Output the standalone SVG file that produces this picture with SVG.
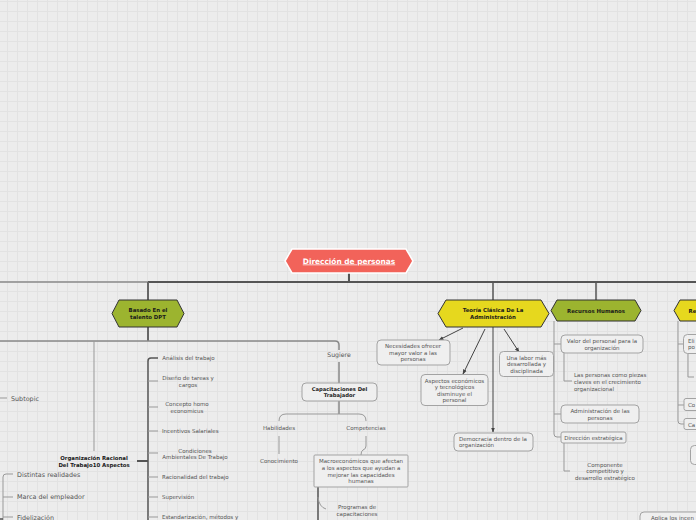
<svg xmlns="http://www.w3.org/2000/svg" width="696" height="520" viewBox="0 0 696 520">
<defs>
<pattern id="grid" x="7" y="1" width="10" height="10" patternUnits="userSpaceOnUse">
<rect width="10" height="10" fill="#ececec"/>
<path d="M0.5 0 V10 M0 0.5 H10" stroke="#e2e2e2" stroke-width="1"/>
</pattern>
<marker id="arr" viewBox="0 0 10 10" refX="9" refY="5" markerWidth="5" markerHeight="5" orient="auto">
<path d="M0 1 L10 5 L0 9 Z" fill="#444"/>
</marker>
<style>
.t{font-family:"DejaVu Sans",Verdana,sans-serif;font-size:5.5px;fill:#555}
.m{text-anchor:middle}
.b{font-weight:bold;fill:#1a1a1a;font-size:5.4px}
.big{font-size:6.4px}
.box{fill:#efefef;stroke:#a3a3a3;stroke-width:1}
.ln{fill:none;stroke:#999;stroke-width:1}
.dk{fill:none;stroke:#555;stroke-width:1.5}
.ar{fill:none;stroke:#444;stroke-width:1;marker-end:url(#arr)}
.green{fill:#9cb42f;stroke:#333;stroke-width:1}
.yellow{fill:#e6d81e;stroke:#333;stroke-width:1}
</style>
</defs>
<rect width="696" height="520" fill="url(#grid)"/>

<g id="connectors">
<line x1="0" y1="282" x2="148" y2="282" stroke="#888" stroke-width="1.5"/>
<line x1="148" y1="282" x2="696" y2="282" stroke="#555" stroke-width="2"/>
<line x1="349" y1="273" x2="349" y2="282" stroke="#555" stroke-width="2"/>
<line x1="148" y1="282" x2="148" y2="300" stroke="#666" stroke-width="2"/>
<line x1="493" y1="282" x2="493" y2="300" stroke="#555" stroke-width="1.5"/>
<line x1="596" y1="282" x2="596" y2="300" stroke="#555" stroke-width="1.5"/>
<line x1="148" y1="327" x2="148" y2="341" stroke="#666" stroke-width="2"/>
<path d="M0 341 H335 Q339 341 339 345 V350" fill="none" stroke="#888" stroke-width="1.5"/>
<line x1="94" y1="341" x2="94" y2="451" class="ln"/>
<line x1="339" y1="362" x2="339" y2="383" stroke="#888" stroke-width="1.5"/>
<line x1="339" y1="401" x2="339" y2="414" stroke="#888" stroke-width="1.5"/>
<path class="ln" d="M279 421 Q279 414 286 414 H359 Q366 414 366 421"/>
<line x1="279" y1="436" x2="279" y2="454" class="ln"/>
<path class="ln" d="M366 436 V446 Q366 449 363 450 Q361 451 361 455"/>
<path class="dk" d="M158 358 H151 Q148 358 148 361 V520"/>
<line x1="137" y1="461" x2="148" y2="461" stroke="#555" stroke-width="2"/>
<path class="ln" d="M148 381 H158 M148 407 H158 M148 431 H158 M148 453 H158 M148 477 H158 M148 497 H158 M148 517 H158"/>
<line x1="0" y1="398" x2="7" y2="398" class="ln"/>
<path class="ln" d="M13 474 H6 Q3 474 3 477 V520 M3 497 H13 M3 517 H13"/>
<line x1="0" y1="519" x2="3" y2="519" stroke="#555" stroke-width="1.5"/>
<path class="dk" d="M318 487 V520"/>
<path class="ln" d="M318 497 Q319 507 326 509"/>
<line class="ar" x1="463" y1="328" x2="439" y2="340"/>
<line class="ar" x1="485" y1="329" x2="463" y2="374"/>
<line class="ar" x1="493" y1="327" x2="493" y2="432"/>
<line class="ar" x1="504" y1="329" x2="519" y2="352"/>
<path class="ln" d="M554 321 V434 Q554 437 557 437 H561 M554 344 H561 M554 414 H561"/>
<path class="ln" d="M564 353 V381 H572"/>
<path class="ln" d="M564 443 V471 H570"/>
<path class="ln" d="M678 321 V421 Q678 424 681 424 H684 M678 344 H684 M678 405 H684"/>
<path class="ln" d="M688 353 V377 H694"/>
</g>

<g id="root">
<polygon points="285,261 292,249 406,249 413,261 406,273 292,273" fill="#f2635a" stroke="#fff" stroke-width="1.5"/>
<text x="349" y="263.5" class="t m" style="font-size:7.4px;font-weight:bold;fill:#fff;text-decoration:underline">Dirección de personas</text>
</g>

<g id="basado">
<polygon class="green" points="112,313.5 119,300 177,300 184,313.5 177,327 119,327"/>
<text class="t m b" x="148" y="312">Basado En el</text>
<text class="t m b" x="148" y="319">talento DPT</text>
</g>

<g id="subtopic"><text class="t big" x="11" y="400.5">Subtopic</text></g>
<g id="distintas"><text class="t big" x="17" y="476.5">Distintas realidades</text></g>
<g id="marca"><text class="t big" x="17" y="499">Marca del empleador</text></g>
<g id="fidelizacion"><text class="t big" x="17" y="519.5">Fidelización</text></g>

<g id="organizacion">
<text class="t m b" x="94" y="460">Organización Racional</text>
<text class="t m b" x="94" y="466.5">Del Trabajo10 Aspectos</text>
</g>

<g id="analisis"><text class="t m" x="188.5" y="360">Análisis del trabajo</text></g>
<g id="diseno"><text class="t m" x="188" y="380">Diseño de tareas y</text><text class="t m" x="188" y="386.5">cargos</text></g>
<g id="concepto"><text class="t m" x="187" y="406">Concepto homo</text><text class="t m" x="187" y="413">economicus</text></g>
<g id="incentivos"><text class="t" x="162" y="433">Incentivos Salariales</text></g>
<g id="condiciones"><text class="t m" x="195" y="453">Condiciones</text><text class="t m" x="195" y="459">Ambientales De Trabajo</text></g>
<g id="racionalidad"><text class="t" x="162" y="479">Racionalidad del trabajo</text></g>
<g id="supervision"><text class="t" x="162" y="499">Supervisión</text></g>
<g id="estandarizacion"><text class="t" x="162" y="519">Estandarización, métodos y</text></g>

<g id="sugiere"><text class="t m" x="339" y="356.5" style="font-size:6.2px">Sugiere</text></g>

<g id="capacitaciones">
<rect class="box" x="302" y="383" width="75" height="18" rx="4"/>
<text class="t m b" x="339.5" y="391" style="font-size:5.2px">Capacitaciones Del</text>
<text class="t m b" x="339.5" y="397" style="font-size:5.2px">Trabajador</text>
</g>
<g id="habilidades"><text class="t m" x="279" y="430">Habilidades</text></g>
<g id="competencias"><text class="t m" x="366" y="430">Competencias</text></g>
<g id="conocimiento"><text class="t m" x="279" y="463">Conocimiento</text></g>

<g id="macro">
<rect class="box" x="314" y="455" width="94" height="32" rx="1"/>
<text class="t m" x="361" y="463">Macroeconómicos que afectan</text>
<text class="t m" x="361" y="470">a los aspectos que ayudan a</text>
<text class="t m" x="361" y="476.5">mejorar las capacidades</text>
<text class="t m" x="361" y="483">humanas</text>
</g>
<g id="programas"><text class="t m" x="357" y="509">Programas de</text><text class="t m" x="357" y="516">capacitaciones</text></g>

<g id="teoria">
<polygon class="yellow" points="438,313.5 446,300 541,300 549,313.5 541,327 446,327"/>
<text class="t m b" x="493" y="312">Teoría Clásica De La</text>
<text class="t m b" x="493" y="319">Administración</text>
</g>
<g id="necesidades">
<rect class="box" x="377" y="340" width="73" height="25" rx="4"/>
<text class="t m" x="413" y="348">Necesidades ofrecer</text>
<text class="t m" x="413" y="355">mayor valor a las</text>
<text class="t m" x="413" y="361">personas</text>
</g>
<g id="aspectos">
<rect class="box" x="421" y="374.5" width="67" height="31" rx="4"/>
<text class="t m" x="454.5" y="383">Aspectos económicos</text>
<text class="t m" x="454.5" y="389">y tecnológicos</text>
<text class="t m" x="454.5" y="396">disminuye el</text>
<text class="t m" x="454.5" y="402">personal</text>
</g>
<g id="labor">
<rect class="box" x="499.5" y="351.5" width="54" height="25" rx="4"/>
<text class="t m" x="526.5" y="360">Una labor más</text>
<text class="t m" x="526.5" y="366">desarrollada y</text>
<text class="t m" x="526.5" y="373">disciplinada</text>
</g>
<g id="democracia">
<rect class="box" x="454" y="433" width="79" height="18" rx="4"/>
<text class="t" x="459" y="441">Democracia dentro de la</text>
<text class="t" x="459" y="447">organización</text>
</g>

<g id="recursos">
<polygon class="green" points="551,310.5 557,300 635,300 641,310.5 635,321 557,321"/>
<text class="t m b" x="596" y="312.5">Recursos Humanos</text>
</g>
<g id="valor">
<rect class="box" x="561" y="335" width="82" height="18" rx="4"/>
<text class="t m" x="602" y="343">Valor del personal para la</text>
<text class="t m" x="602" y="350">organización</text>
</g>
<g id="piezas">
<text class="t" x="574" y="377">Las personas como piezas</text>
<text class="t" x="574" y="383.5">claves en el crecimiento</text>
<text class="t" x="574" y="390.5">organizacional</text>
</g>
<g id="administracion">
<rect class="box" x="561" y="405" width="78" height="18" rx="4"/>
<text class="t m" x="600" y="413">Administración de las</text>
<text class="t m" x="600" y="420">personas</text>
</g>
<g id="direccion">
<rect class="box" x="561" y="432" width="65" height="11" rx="2"/>
<text class="t m" x="593.5" y="439.5">Dirección estratégica</text>
</g>
<g id="componente">
<text class="t m" x="605" y="467">Componente</text>
<text class="t m" x="605" y="473">competitivo y</text>
<text class="t m" x="605" y="480">desarrollo estratégico</text>
</g>

<g id="right-node">
<polygon class="yellow" points="674,310.5 680,300 730,300 736,310.5 730,321 680,321"/>
<text class="t b" x="688.5" y="312.5">Re</text>
</g>
<g id="right-1">
<rect class="box" x="683.5" y="334.5" width="30" height="19" rx="4"/>
<text class="t" x="688" y="343">Eli</text>
<text class="t" x="688" y="349">po</text>
</g>
<g id="right-2">
<rect class="box" x="684" y="398.5" width="30" height="12" rx="2"/>
<text class="t" x="688" y="406.5">Co</text>
</g>
<g id="right-3">
<rect class="box" x="684" y="418.5" width="30" height="11" rx="2"/>
<text class="t" x="688" y="426.5">Ca</text>
</g>
<g id="right-4">
<rect class="box" x="690.5" y="445.5" width="30" height="19" rx="4"/>
</g>
<g id="aplica">
<rect class="box" x="640" y="512" width="70" height="14" rx="4"/>
<text class="t" x="651" y="520">Aplica los incen</text>
</g>
</svg>
